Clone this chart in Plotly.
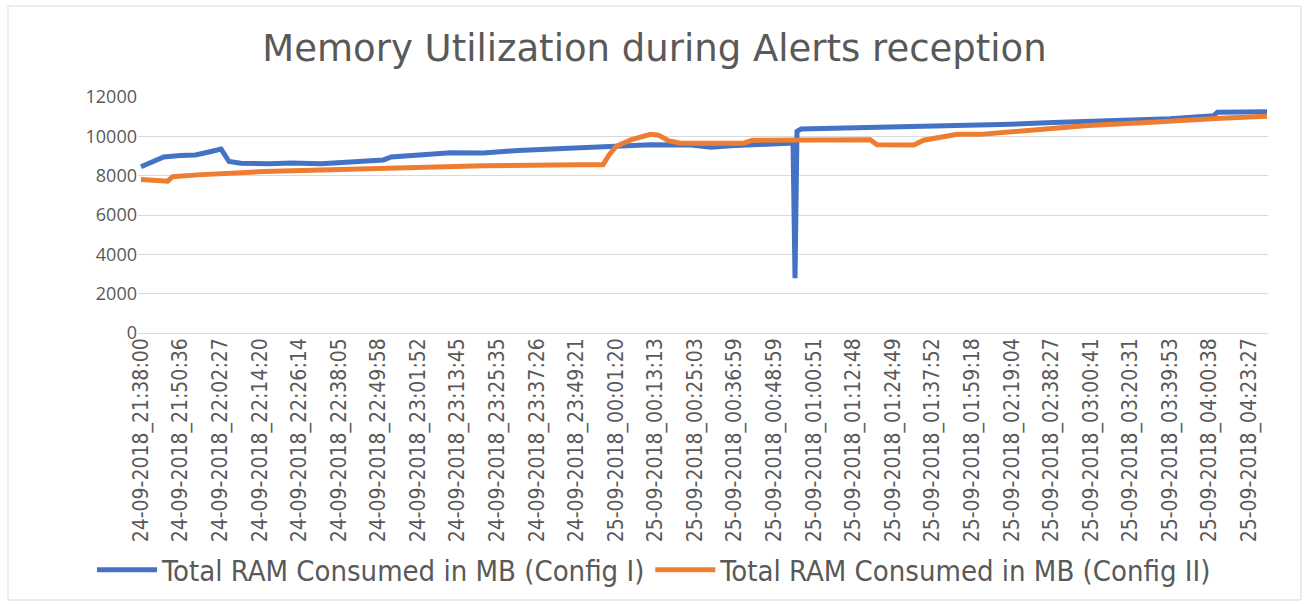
import plotly.graph_objects as go

# ---- data (sample index along the recording, value in MB) ----
tick_labels = [
    "24-09-2018_21:38:00", "24-09-2018_21:50:36", "24-09-2018_22:02:27",
    "24-09-2018_22:14:20", "24-09-2018_22:26:14", "24-09-2018_22:38:05",
    "24-09-2018_22:49:58", "24-09-2018_23:01:52", "24-09-2018_23:13:45",
    "24-09-2018_23:25:35", "24-09-2018_23:37:26", "24-09-2018_23:49:21",
    "25-09-2018_00:01:20", "25-09-2018_00:13:13", "25-09-2018_00:25:03",
    "25-09-2018_00:36:59", "25-09-2018_00:48:59", "25-09-2018_01:00:51",
    "25-09-2018_01:12:48", "25-09-2018_01:24:49", "25-09-2018_01:37:52",
    "25-09-2018_01:59:18", "25-09-2018_02:19:04", "25-09-2018_02:38:27",
    "25-09-2018_03:00:41", "25-09-2018_03:20:31", "25-09-2018_03:39:53",
    "25-09-2018_04:00:38", "25-09-2018_04:23:27",
]
samples_per_label = 40

config1_idx = [0, 10, 23, 40, 55, 71, 81, 89, 101, 130, 152, 182, 212, 245, 253,
               313, 346, 381, 444, 475, 515, 556, 576, 596, 657, 659, 661, 663,
               667, 747, 815, 869, 922, 990, 1040, 1084, 1088, 1138]
config1_mb = [8450, 8650, 8950, 9020, 9050, 9230, 9350, 8720, 8630, 8600, 8650,
              8600, 8720, 8800, 8950, 9170, 9150, 9280, 9420, 9480, 9570, 9560,
              9450, 9520, 9640, 9660, 2780, 10250, 10370, 10440, 10500, 10600,
              10700, 10800, 10900, 11050, 11230, 11250]

config2_idx = [0, 20, 27, 32, 57, 124, 222, 253, 346, 444, 467, 473, 480, 495,
               515, 523, 533, 545, 609, 618, 737, 744, 781, 791, 825, 848, 899,
               957, 1017, 1057, 1091, 1138]
config2_mb = [7800, 7780, 7720, 7950, 8040, 8210, 8360, 8420, 8500, 8560, 8560,
              9050, 9480, 9820, 10100, 10060, 9780, 9650, 9650, 9800, 9830, 9570,
              9560, 9800, 10100, 10100, 10300, 10550, 10700, 10850, 10920, 11020]

name1 = "Total RAM Consumed in MB (Config I)"
name2 = "Total RAM Consumed in MB (Config II)"

tick_vals = [i * samples_per_label for i in range(len(tick_labels))]

grey_text = "#595959"
grid = "#d9d9d9"
narrow = "Liberation Sans Narrow, DejaVu Sans Condensed, Roboto Condensed, Liberation Sans, sans-serif"

fig = go.Figure()
fig.add_trace(go.Scatter(x=config1_idx, y=config1_mb, mode="lines", name=name1,
                         line=dict(color="#4472C4", width=5)))
fig.add_trace(go.Scatter(x=config2_idx, y=config2_mb, mode="lines", name=name2,
                         line=dict(color="#ED7D31", width=5)))

fig.update_layout(
    width=1309, height=604,
    paper_bgcolor="white", plot_bgcolor="white",
    margin=dict(l=138, r=41, t=97, b=271, autoexpand=False),
    title=dict(text="Memory Utilization during Alerts reception",
               x=0.5, xanchor="center", y=1 - 48 / 604, yanchor="middle",
               font=dict(family="DejaVu Sans, Noto Sans, sans-serif", size=37, color=grey_text)),
    xaxis=dict(range=[-3, 1139], tickmode="array", tickvals=tick_vals, ticktext=tick_labels,
               tickangle=-90, showgrid=False, zeroline=False, showline=False, automargin=False,
               ticks="", tickfont=dict(family=narrow, size=21, color=grey_text)),
    yaxis=dict(range=[0, 12000], tickvals=[0, 2000, 4000, 6000, 8000, 10000, 12000],
               showgrid=True, gridcolor=grid, gridwidth=1.3, zeroline=True,
               zerolinecolor=grid, zerolinewidth=1.3, showline=False, ticks="",
               tickformat="d", automargin=False,
               tickfont=dict(family="Open Sans, Noto Sans, sans-serif", size=18, color=grey_text)),
    legend=dict(orientation="h", x=0.5, xanchor="center", xref="container",
                y=1 - 570 / 604, yanchor="middle", yref="container",
                font=dict(family=narrow, size=29, color=grey_text),
                itemwidth=60, bgcolor="rgba(0,0,0,0)"),
    shapes=[dict(type="rect", xref="paper", yref="paper",
                 x0=(8 - 138) / 1130, x1=(1301 - 138) / 1130,
                 y0=(333 - 600) / 236, y1=(333 - 6) / 236,
                 line=dict(color=grid, width=1), fillcolor="rgba(0,0,0,0)", layer="below")],
)

fig.write_html("out.html", config={"displayModeBar": False},
               post_script="document.body.style.margin='0';document.body.style.overflow='hidden';")
